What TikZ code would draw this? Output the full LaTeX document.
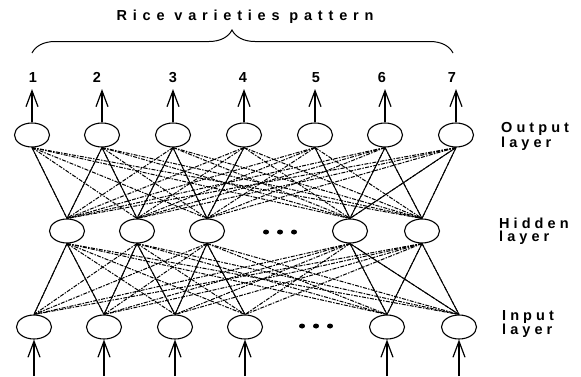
\documentclass[tikz,border=0pt]{standalone}
\usepackage{fontspec}
\setmainfont{Liberation Sans}
\newfontfamily\titlefont{Liberation Sans Bold}[LetterSpace=40]
\newfontfamily\lblfont{Liberation Sans Bold}[LetterSpace=28]
\newfontfamily\numfont{Liberation Sans Bold}
\usetikzlibrary{shapes.geometric,arrows.meta,decorations.pathreplacing}
\tikzset{
  neuron/.style={draw, ellipse, line width=1.1pt, minimum width=35pt, minimum height=24pt, inner sep=0pt},
  solidlink/.style={line width=0.9pt},
  dashlink/.style={line width=1pt, dash pattern=on 4pt off 1.3pt on 1.5pt off 1.3pt},
  arr/.style={line width=1.5pt, -{Straight Barb[length=16pt,width=12pt,line width=1.2pt]}},
  num/.style={font=\numfont\fontsize{14.5}{14.5}\selectfont, inner sep=0pt, anchor=base},
  lbl/.style={font=\lblfont\fontsize{14.5}{13}\selectfont, align=left, anchor=west, inner sep=0pt},
  ttl/.style={font=\titlefont\fontsize{14.5}{14.5}\selectfont, inner sep=0pt},
  dot/.style={fill, ellipse, inner sep=0pt, minimum width=6pt, minimum height=5pt}
}
\begin{document}
\begin{tikzpicture}[x=1pt,y=-1pt]
\useasboundingbox (0,0) rectangle (581,376);
% output layer
\foreach \i/\x in {1/32,2/102,3/173,4/244,5/315,6/385,7/456}
  \node[neuron] (o\i) at (\x,135) {};
% hidden layer
\foreach \i/\x in {1/67,2/137,3/207,4/350,5/422}
  \node[neuron] (h\i) at (\x,231) {};
% input layer
\foreach \i/\x in {1/34,2/104,3/175,4/245,5/387,6/459}
  \node[neuron] (i\i) at (\x,327) {};
% dots
\foreach \j/\x in {1/266,2/280,3/294}
  \node[dot] (hd\j) at (\x,232) {};
\foreach \j/\x in {1/302,2/316,3/330}
  \node[dot] (id\j) at (\x,326) {};
% all connections (dashed)
\foreach \o in {1,...,7}
  \foreach \h in {1,...,5}
    \draw[dashlink] (o\o.south) -- (h\h.north);
\foreach \h in {1,...,5}
  \foreach \i in {1,...,6}
    \draw[dashlink] (h\h.south) -- (i\i.north);
% solid connections
\foreach \o/\h in {1/1,2/1,2/2,3/2,3/3,4/3,5/4,6/4,6/5,7/5,7/4}
  \draw[solidlink] (o\o.south) -- (h\h.north);
\foreach \h/\i in {1/1,1/2,2/2,2/3,3/3,3/4,4/5,4/6,5/5,5/6}
  \draw[solidlink] (h\h.south) -- (i\i.north);
% output arrows and numbers
\foreach \i/\x/\nx in {1/32/33,2/102/97,3/173/173,4/244/243,5/315/316,6/385/382,7/456/452}{
  \coordinate (t\i) at (\x,89);
  \draw[arr] (o\i.north) -- (t\i);
  \node[num] (n\i) at (\nx,82) {\i};
}
% input arrows
\foreach \i/\x in {1/34,2/104,3/175,4/245,5/387,6/459}{
  \coordinate (b\i) at (\x,376);
  \draw[arr] (b\i) -- (i\i.south);
}
% brace and title
\coordinate (bl) at (32,53);
\coordinate (br) at (453,53);
\draw[line width=1pt, decorate, decoration={brace, amplitude=23pt, aspect=0.475}] (bl) -- (br);
\node[ttl] (title) at (245,17) {Rice varieties pattern};
% layer labels
\node[lbl] (lo) at (501,136.5) {Output\\layer};
\node[lbl] (lh) at (499,231.5) {Hidden\\layer};
\node[lbl] (li) at (502,324) {Input\\layer};
\end{tikzpicture}
\end{document}
